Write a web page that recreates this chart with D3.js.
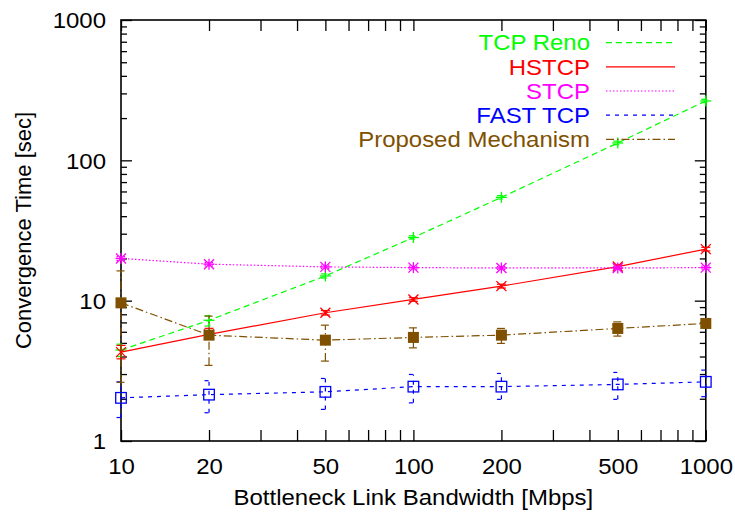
<!DOCTYPE html>
<html>
<head>
<meta charset="utf-8">
<script src="https://cdn.jsdelivr.net/npm/d3@7"></script>
<style>
  html, body { margin: 0; padding: 0; background: #fff; }
  svg { display: block; font-family: "Liberation Sans", Arial, sans-serif; }
</style>
</head>
<body>
<svg id="chart" width="735" height="516"></svg>
<script>
// Bottleneck bandwidth (Mbps) on the x axis
const bandwidth = [10, 20, 50, 100, 200, 500, 1000];

// Convergence time (sec) for each mechanism
const renoTime     = [4.45, 7.25, 15.0, 28.2, 54.5, 133, 265];
const hstcpTime    = [4.3, 5.75, 8.2, 10.2, 12.7, 17.5, 23.3];
const stcpTime     = [20.0, 18.2, 17.4, 17.2, 17.1, 17.1, 17.2];
const fastTime     = [2.03, 2.14, 2.24, 2.44, 2.44, 2.53, 2.64];
const proposedTime = [9.65, 5.68, 5.23, 5.47, 5.68, 6.34, 6.88];

// Error bar extents (low / high)
const renoLo     = [4.0, 6.6, 14.5, 27.5, 53.0, 129, 258];
const renoHi     = [4.9, 7.8, 15.5, 29.0, 56.0, 137, 272];
const hstcpLo    = [3.85, 5.3, 7.9, 9.9, 12.3, 17.0, 22.6];
const hstcpHi    = [4.8, 6.35, 8.5, 10.5, 13.1, 18.0, 24.0];
const stcpLo     = [19.4, 17.7, 16.9, 16.8, 16.7, 16.7, 16.8];
const stcpHi     = [20.6, 18.7, 17.9, 17.6, 17.5, 17.5, 17.6];
const fastLo     = [1.47, 1.59, 1.68, 1.87, 1.98, 1.98, 2.07];
const fastHi     = [2.64, 2.69, 2.79, 2.98, 3.03, 3.08, 3.2];
const proposedLo = [2.62, 3.46, 3.71, 4.61, 4.96, 5.59, 6.5];
const proposedHi = [16.3, 7.76, 6.69, 6.4, 6.34, 7.06, 7.3];

// Axis tick values
const xTickLabels = [10, 20, 50, 100, 200, 500, 1000];
const yTickLabels = [1, 10, 100, 1000];

const seriesNames = ["TCP Reno", "HSTCP", "STCP", "FAST TCP", "Proposed Mechanism"];

const series = [
  { name: seriesNames[0], y: renoTime, lo: renoLo, hi: renoHi, color: "#00ff00", dash: "6,4", marker: "plus" },
  { name: seriesNames[1], y: hstcpTime, lo: hstcpLo, hi: hstcpHi, color: "#ff0000", dash: null, marker: "cross" },
  { name: seriesNames[2], y: stcpTime, lo: stcpLo, hi: stcpHi, color: "#ff00ff", dash: "1.5,2", marker: "star" },
  { name: seriesNames[3], y: fastTime, lo: fastLo, hi: fastHi, color: "#0000ff", dash: "4,5", marker: "openSquare" },
  { name: seriesNames[4], y: proposedTime, lo: proposedLo, hi: proposedHi, color: "#7f5000", dash: "8,3,1.5,3", marker: "filledSquare" }
];

const svg = d3.select("#chart");
const plotLeft = 121, plotRight = 705.8, plotTop = 20, plotBottom = 441;
const FONT = "22px";
const STRETCH = 1.09; // horizontal widening of the label glyphs

const x = d3.scaleLog().domain([10, 1000]).range([plotLeft, plotRight]);
const y = d3.scaleLog().domain([1, 1000]).range([plotBottom, plotTop]);

// All 1..9 multiples per decade
function logTicks(lo, hi) {
  const out = [];
  for (let d = lo; d < hi; d *= 10) for (let k = 1; k < 10; k++) out.push(d * k);
  out.push(hi);
  return out;
}
const xTicksAll = logTicks(10, 1000);
const yTicksAll = logTicks(1, 1000);
const yMinor = yTicksAll.filter(v => !yTickLabels.includes(v));

const fmt = d => (xTickLabels.includes(d) ? String(d) : "");

// X axes (bottom and top), inward ticks
const xBottom = d3.axisBottom(x).tickValues(xTicksAll).tickSize(-11).tickPadding(0).tickFormat(fmt);
const xTop = d3.axisTop(x).tickValues(xTicksAll).tickSize(-11).tickFormat("");
// Y axes: major and minor ticks on both sides
const yLeftMajor = d3.axisLeft(y).tickValues(yTickLabels).tickSize(-11).tickFormat(d3.format("d"));
const yLeftMinor = d3.axisLeft(y).tickValues(yMinor).tickSize(-6).tickFormat("");
const yRightMajor = d3.axisRight(y).tickValues(yTickLabels).tickSize(-11).tickFormat("");
const yRightMinor = d3.axisRight(y).tickValues(yMinor).tickSize(-6).tickFormat("");

function styleAxis(g) {
  g.select(".domain").remove();
  g.selectAll(".tick line").attr("stroke", "#000").attr("stroke-width", 1.3);
  g.selectAll("text").attr("fill", "#000").style("font-size", FONT)
    .style("font-family", '"Liberation Sans", Arial, sans-serif');
}

const gxb = svg.append("g").attr("transform", `translate(0,${plotBottom})`).call(xBottom).call(styleAxis);
gxb.selectAll("text").attr("x", 0).attr("y", 0).attr("dy", 0)
  .attr("transform", `translate(0,33) scale(${STRETCH},1)`);
svg.append("g").attr("transform", `translate(0,${plotTop})`).call(xTop).call(styleAxis);

const gyl = svg.append("g").attr("transform", `translate(${plotLeft},0)`).call(yLeftMajor).call(styleAxis);
gyl.selectAll("text").attr("x", 0).attr("dy", "0.36em")
  .attr("transform", `translate(-15,0) scale(${STRETCH},1)`);
svg.append("g").attr("transform", `translate(${plotLeft},0)`).call(yLeftMinor).call(styleAxis);
svg.append("g").attr("transform", `translate(${plotRight},0)`).call(yRightMajor).call(styleAxis);
svg.append("g").attr("transform", `translate(${plotRight},0)`).call(yRightMinor).call(styleAxis);

// Plot frame
svg.append("rect")
  .attr("x", plotLeft).attr("y", plotTop)
  .attr("width", plotRight - plotLeft).attr("height", plotBottom - plotTop)
  .attr("fill", "none").attr("stroke", "#000").attr("stroke-width", 1.6);

// Axis titles
svg.append("text")
  .attr("transform", `translate(${(plotLeft + plotRight) / 2},505) scale(${STRETCH},1)`)
  .attr("text-anchor", "middle").style("font-size", FONT)
  .text("Bottleneck Link Bandwidth [Mbps]");
svg.append("text")
  .attr("transform", `translate(31,${(plotTop + plotBottom) / 2}) rotate(-90)`)
  .attr("text-anchor", "middle").style("font-size", FONT)
  .text("Convergence Time [sec]");

// Marker shapes
function drawMarker(g, kind, cx, cy, color) {
  const r = 5.5;
  if (kind === "plus" || kind === "star") {
    g.append("line").attr("x1", cx - r).attr("x2", cx + r).attr("y1", cy).attr("y2", cy).attr("stroke", color).attr("stroke-width", 1.3);
    g.append("line").attr("x1", cx).attr("x2", cx).attr("y1", cy - r).attr("y2", cy + r).attr("stroke", color).attr("stroke-width", 1.3);
  }
  if (kind === "cross" || kind === "star") {
    const s = 5;
    g.append("line").attr("x1", cx - s).attr("x2", cx + s).attr("y1", cy - s).attr("y2", cy + s).attr("stroke", color).attr("stroke-width", 1.3);
    g.append("line").attr("x1", cx - s).attr("x2", cx + s).attr("y1", cy + s).attr("y2", cy - s).attr("stroke", color).attr("stroke-width", 1.3);
  }
  if (kind === "openSquare") {
    g.append("rect").attr("x", cx - 5.3).attr("y", cy - 5.3).attr("width", 10.6).attr("height", 10.6)
      .attr("fill", "none").attr("stroke", color).attr("stroke-width", 1.3);
  }
  if (kind === "filledSquare") {
    g.append("rect").attr("x", cx - 5.5).attr("y", cy - 5.5).attr("width", 11).attr("height", 11)
      .attr("fill", color);
  }
}

const line = d3.line().x(d => x(d[0])).y(d => y(d[1]));

series.forEach(s => {
  const g = svg.append("g");
  const pts = bandwidth.map((b, i) => [b, s.y[i]]);
  // error bars
  bandwidth.forEach((b, i) => {
    const cx = x(b);
    const eb = g.append("g").attr("stroke", s.color).attr("stroke-width", 1.2).attr("fill", "none")
      .attr("stroke-dasharray", s.dash);
    eb.append("line").attr("x1", cx).attr("x2", cx).attr("y1", y(s.lo[i])).attr("y2", y(s.hi[i]));
    eb.append("line").attr("x1", cx - 4.5).attr("x2", cx + 4.5).attr("y1", y(s.lo[i])).attr("y2", y(s.lo[i]));
    eb.append("line").attr("x1", cx - 4.5).attr("x2", cx + 4.5).attr("y1", y(s.hi[i])).attr("y2", y(s.hi[i]));
  });
  // connecting line
  g.append("path").datum(pts).attr("d", line)
    .attr("fill", "none").attr("stroke", s.color).attr("stroke-width", 1.2)
    .attr("stroke-dasharray", s.dash);
  // markers
  pts.forEach(p => drawMarker(g, s.marker, x(p[0]), y(p[1]), s.color));
});

// Legend
const legend = svg.append("g");
series.forEach((s, i) => {
  const ly = 42.6 + i * 24.2;
  legend.append("text")
    .attr("transform", `translate(590,${ly + 7.8}) scale(${STRETCH},1)`)
    .attr("text-anchor", "end").attr("fill", s.color).style("font-size", FONT)
    .text(s.name);
  legend.append("line")
    .attr("x1", 606).attr("x2", 675).attr("y1", ly).attr("y2", ly)
    .attr("stroke", s.color).attr("stroke-width", 1.2)
    .attr("stroke-dasharray", s.dash);
});
</script>
</body>
</html>
